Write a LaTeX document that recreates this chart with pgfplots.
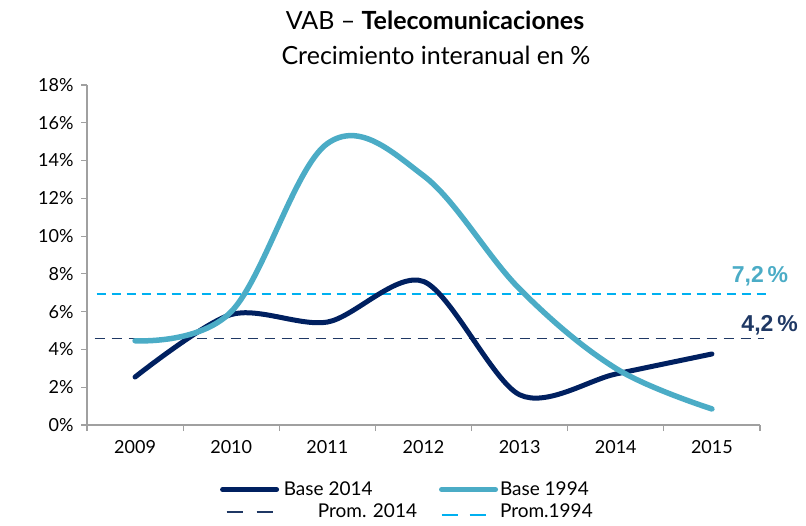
\documentclass[border=0pt]{standalone}
\usepackage{fontspec}
\setmainfont{Lato}
\newfontfamily\arialfont{Liberation Sans}
\usepackage{pgfplots}
\pgfplotsset{compat=1.18}
\definecolor{navy}{HTML}{002060}
\definecolor{lightc}{HTML}{4BACC6}
\definecolor{lightd}{HTML}{00B0F0}
\definecolor{navyd}{HTML}{1F3864}
\definecolor{axgray}{HTML}{A0A0A0}
\begin{document}
\begin{tikzpicture}[x=1pt,y=1pt]
\useasboundingbox (-87,-100) rectangle (719,425);
\begin{axis}[at={(0,0)}, anchor=south west,
  scale only axis, width=673pt, height=340pt,
  xmin=2008.5, xmax=2015.5, ymin=0, ymax=18,
  clip=false,
  axis x line*=bottom, axis y line*=left,
  axis line style={axgray, line width=1.2pt},
  xtick={2009,2010,2011,2012,2013,2014,2015},
  xticklabels={2009,2010,2011,2012,2013,2014,2015},
  major x tick style={draw=none},
  minor xtick={2008.5,2009.5,2010.5,2011.5,2012.5,2013.5,2014.5,2015.5},
  minor tick length=6pt, major tick length=6pt,
  tick align=outside,
  every tick/.style={axgray, line width=1.2pt},
  ytick={0,2,...,18},
  yticklabel={\pgfmathprintnumber{\tick}\%},
  /pgf/number format/assume math mode=true,
  tick label style={font=\fontsize{18}{21}\selectfont, black},
  xticklabel style={yshift=-6pt},
  yticklabel style={xshift=-4pt},
  legend style={draw=none, fill=none, at={(rel axis cs:0.193,-0.155)}, anchor=north west,
    font=\fontsize{19}{22}\selectfont, legend cell align=left,
    /tikz/every even column/.append style={column sep=20pt},
    row sep=3pt},
  legend columns=2,
  legend image code/.code={\draw[#1] (0pt,0pt) -- (54pt,0pt);},
]
\addlegendimage{navy, line width=5pt, line cap=round}
\addlegendentry{Base 2014}
\addlegendimage{lightc, line width=5pt, line cap=round}
\addlegendentry{Base 1994}
\addlegendimage{navyd, line width=2.5pt, dash pattern=on 16pt off 14pt, xshift=4pt}
\addlegendentry{\hspace{34pt}Prom. 2014}
\addlegendimage{lightd, line width=2.5pt, dash pattern=on 16pt off 12pt, yshift=-3pt}
\addlegendentry{Prom.1994}

\addplot[forget plot, lightd, line width=1.6pt, dash pattern=on 9pt off 6pt] coordinates {(2008.60,6.92) (2015.58,6.92)};
\addplot[forget plot, navyd, line width=1.6pt, dash pattern=on 10pt off 7pt] coordinates {(2008.58,4.59) (2015.54,4.59)};

\addplot[forget plot, navy, line width=5pt, line cap=round, smooth] coordinates {
(2009,2.54) (2010,5.85) (2011,5.45) (2012,7.6) (2013,1.6) (2014,2.7) (2015,3.76)};
\addplot[forget plot, lightc, line width=5.5pt, line cap=round, smooth, tension=0.6] coordinates {
(2009,4.46) (2010,6.0) (2011,14.9) (2012,13.2) (2013,7.2) (2014,3.0) (2015,0.85)};

\node[font=\arialfont\bfseries\fontsize{23}{25}\selectfont, text=lightc] at (axis cs:2015.5,7.85) {7,2\,\%};
\node[font=\arialfont\bfseries\fontsize{23}{25}\selectfont, text=navyd] at (axis cs:2015.6,5.3) {4,2\,\%};
\end{axis}
\node[font=\fontsize{25}{29}\selectfont] at (348,405) {VAB -- \textbf{Telecomunicaciones}};
\node[font=\fontsize{25}{29}\selectfont] at (349,370) {Crecimiento interanual en \%};
\end{tikzpicture}
\end{document}
